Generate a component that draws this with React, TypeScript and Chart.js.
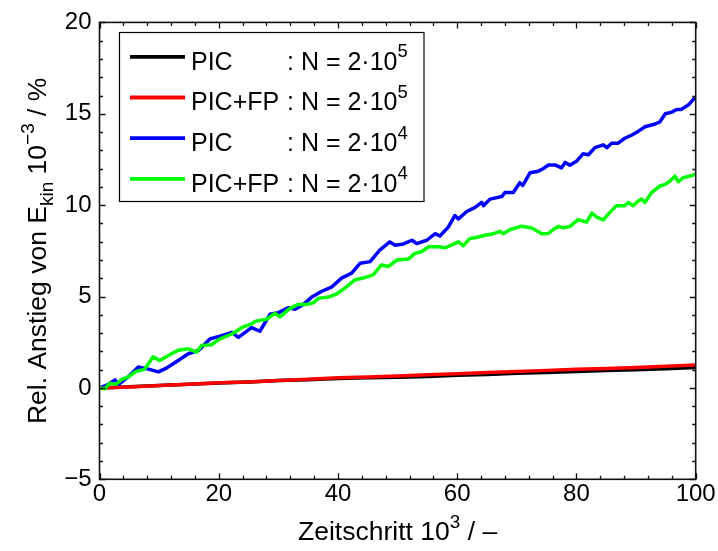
import { useEffect, useRef } from 'react';
import { Chart, registerables } from 'chart.js';

Chart.register(...registerables);

// ---- data (x in 10^3 time steps, y in 10^-3 %) ----
const lowX = [0, 5, 10, 15, 20, 25, 30, 35, 40, 45, 50, 55, 60, 65, 70, 75, 80, 85, 90, 95, 100];
const picN5 = [0, 0.07, 0.13, 0.2, 0.27, 0.33, 0.4, 0.45, 0.52, 0.55, 0.58, 0.63, 0.7, 0.73, 0.8, 0.85, 0.9, 0.95, 1.0, 1.05, 1.12];
const picFpN5 = [0, 0.05, 0.13, 0.2, 0.28, 0.33, 0.4, 0.47, 0.55, 0.6, 0.65, 0.72, 0.78, 0.84, 0.9, 0.96, 1.02, 1.06, 1.12, 1.18, 1.25];

const picN4X = [0, 1.5, 2.6, 3.2, 4.8, 6.5, 8.2, 9.9, 11.3, 13.2, 14.9, 16.6, 18.5, 20.5, 22.2, 23.3, 25.5, 26.9, 28.6, 30.0, 31.7, 32.8, 34.2, 35.6, 37.3, 38.9, 40.6, 42.3, 43.7, 45.4, 47.0, 48.7, 49.6, 51.0, 52.4, 53.2, 54.9, 56.3, 57.1, 58.5, 59.6, 60.2, 61.6, 63.0, 64.1, 64.4, 65.5, 67.5, 68.0, 69.4, 70.5, 71.0, 72.2, 73.6, 74.4, 75.3, 76.4, 77.5, 78.1, 78.9, 80.0, 81.1, 82.0, 83.1, 84.5, 85.1, 85.9, 87.0, 88.1, 89.3, 90.4, 91.5, 92.9, 94.0, 94.9, 96.0, 96.8, 97.6, 98.8, 99.9];
const picN4 = [0, 0.2, 0.44, 0.2, 0.6, 1.15, 1.03, 0.88, 1.1, 1.5, 1.87, 2.05, 2.68, 2.86, 3.04, 2.77, 3.3, 3.1, 4.03, 4.12, 4.39, 4.3, 4.57, 4.97, 5.29, 5.51, 6.01, 6.28, 6.82, 6.91, 7.54, 7.99, 7.81, 7.88, 8.08, 7.9, 8.08, 8.44, 8.31, 8.8, 9.43, 9.25, 9.65, 9.88, 10.15, 9.97, 10.33, 10.47, 10.69, 10.69, 11.23, 11.08, 11.77, 11.86, 11.99, 12.2, 12.2, 12.04, 12.34, 12.18, 12.4, 12.81, 12.76, 13.15, 13.3, 13.15, 13.39, 13.39, 13.66, 13.84, 14.05, 14.29, 14.41, 14.56, 15.0, 15.09, 15.24, 15.24, 15.49, 15.9];

const picFpN4X = [0, 0.9, 1.7, 2.8, 3.7, 4.8, 6.0, 7.6, 9.0, 10.1, 11.8, 13.2, 14.9, 16.3, 17.1, 18.8, 20.2, 22.2, 23.9, 25.5, 26.1, 28.0, 29.4, 30.3, 31.7, 33.3, 34.8, 35.9, 36.7, 38.4, 39.8, 41.2, 42.9, 44.2, 45.9, 47.3, 48.4, 49.9, 51.8, 52.9, 54.0, 55.2, 56.8, 58.0, 59.3, 60.2, 61.0, 62.1, 63.5, 64.7, 66.1, 67.2, 67.7, 68.9, 70.8, 72.5, 74.2, 75.3, 76.3, 77.0, 77.8, 78.9, 80.3, 81.7, 82.6, 83.4, 84.5, 85.9, 86.7, 88.1, 88.7, 89.5, 90.4, 90.9, 91.5, 92.6, 94.0, 94.9, 95.7, 96.5, 97.1, 97.9, 99.0, 99.9];
const picFpN4 = [0, -0.05, 0.25, 0.2, 0.45, 0.6, 0.88, 1.03, 1.7, 1.5, 1.82, 2.06, 2.14, 1.96, 2.32, 2.36, 2.68, 2.95, 3.31, 3.5, 3.64, 3.76, 4.07, 3.89, 4.3, 4.57, 4.57, 4.66, 4.9, 4.97, 5.15, 5.47, 5.92, 6.01, 6.19, 6.73, 6.64, 7.0, 7.05, 7.36, 7.45, 7.72, 7.72, 7.67, 7.85, 7.99, 7.78, 8.17, 8.26, 8.35, 8.44, 8.57, 8.44, 8.67, 8.85, 8.75, 8.44, 8.45, 8.71, 8.84, 8.76, 8.84, 9.21, 9.07, 9.56, 9.34, 9.2, 9.7, 9.97, 9.97, 10.15, 9.97, 10.24, 10.33, 10.15, 10.69, 11.05, 11.14, 11.32, 11.59, 11.28, 11.5, 11.59, 11.68];

const legendNames = ['PIC', 'PIC+FP', 'PIC', 'PIC+FP'];
const legendExps = ['5', '5', '4', '4'];
const seriesColors = ['#000000', '#ff0000', '#0000ff', '#00ff00'];

const xTickValues = [0, 20, 40, 60, 80, 100];
const yTickValues = [-5, 0, 5, 10, 15, 20];
const xMinorStep = 4;
const yMinorStep = 1;

const FONT = '"Liberation Sans", Arial, Helvetica, sans-serif';
const TITLE = 26.5;
const TITLE_SUP = 19;
const LEG = 25;

type Part = { t: string; size: number; dy: number };

function drawRich(ctx: CanvasRenderingContext2D, parts: Part[], x: number, y: number, align: 'left' | 'center') {
  let total = 0;
  const widths = parts.map((p) => {
    ctx.font = `${p.size}px ${FONT}`;
    const w = ctx.measureText(p.t).width;
    total += w;
    return w;
  });
  let cx = align === 'center' ? x - total / 2 : x;
  ctx.textAlign = 'left';
  ctx.textBaseline = 'alphabetic';
  parts.forEach((p, i) => {
    ctx.font = `${p.size}px ${FONT}`;
    ctx.fillText(p.t, cx, y + p.dy);
    cx += widths[i];
  });
}

const framePlugin = {
  id: 'matlabFrame',
  afterDatasetsDraw(chart: any) {
    const { ctx, chartArea } = chart;
    const xs = chart.scales.x;
    const ys = chart.scales.y;
    const { left, right, top, bottom } = chartArea;
    ctx.save();
    ctx.strokeStyle = '#111111';
    ctx.lineWidth = 1.3;
    // ticks
    const xMin = xTickValues[0];
    const xMax = xTickValues[xTickValues.length - 1];
    for (let v = xMin; v <= xMax + 1e-9; v += xMinorStep) {
      const major = xTickValues.some((t) => Math.abs(t - v) < 1e-9);
      const len = major ? 6 : 3.5;
      const px = Math.round(xs.getPixelForValue(v)) + 0.5;
      ctx.beginPath();
      ctx.moveTo(px, bottom);
      ctx.lineTo(px, bottom - len);
      ctx.moveTo(px, top);
      ctx.lineTo(px, top + len);
      ctx.stroke();
    }
    const yMin = yTickValues[0];
    const yMax = yTickValues[yTickValues.length - 1];
    for (let v = yMin; v <= yMax + 1e-9; v += yMinorStep) {
      const major = yTickValues.some((t) => Math.abs(t - v) < 1e-9);
      const len = major ? 6 : 3.5;
      const py = Math.round(ys.getPixelForValue(v)) + 0.5;
      ctx.beginPath();
      ctx.moveTo(left, py);
      ctx.lineTo(left + len, py);
      ctx.moveTo(right, py);
      ctx.lineTo(right - len, py);
      ctx.stroke();
    }
    // box
    ctx.lineWidth = 1.6;
    ctx.strokeRect(left, top, right - left, bottom - top);

    // axis titles
    ctx.fillStyle = '#000000';
    drawRich(
      ctx,
      [
        { t: 'Zeitschritt 10', size: TITLE, dy: 0 },
        { t: '3', size: TITLE_SUP, dy: -12 },
        { t: ' / \u2013', size: TITLE, dy: 0 },
      ],
      (left + right) / 2,
      540,
      'center'
    );
    ctx.save();
    ctx.translate(46, (top + bottom) / 2);
    ctx.rotate(-Math.PI / 2);
    drawRich(
      ctx,
      [
        { t: 'Rel. Anstieg von E', size: TITLE, dy: 0 },
        { t: 'kin', size: TITLE_SUP, dy: 6.5 },
        { t: ' 10', size: TITLE, dy: 0 },
        { t: '\u22123', size: TITLE_SUP, dy: -12 },
        { t: ' / %', size: TITLE, dy: 0 },
      ],
      0,
      0,
      'center'
    );
    ctx.restore();

    // legend
    const lx0 = 119.5;
    const ly0 = 32.5;
    const lw = 304.5;
    const lh = 169;
    ctx.fillStyle = '#ffffff';
    ctx.fillRect(lx0, ly0, lw, lh);
    ctx.lineWidth = 1.2;
    ctx.strokeStyle = '#000000';
    ctx.strokeRect(lx0, ly0, lw, lh);
    const rowGap = 40.7;
    chart.data.datasets.forEach((ds: any, i: number) => {
      const cy = 56.8 + rowGap * i;
      ctx.strokeStyle = ds.borderColor;
      ctx.lineWidth = 3.8;
      ctx.beginPath();
      ctx.moveTo(130, cy);
      ctx.lineTo(185, cy);
      ctx.stroke();
      ctx.fillStyle = '#000000';
      const base = cy + 12.8;
      drawRich(ctx, [{ t: legendNames[i], size: LEG, dy: 0 }], 191, base, 'left');
      drawRich(
        ctx,
        [
          { t: ': N = 2\u00b710', size: LEG, dy: 0 },
          { t: legendExps[i], size: 18.5, dy: -12.5 },
        ],
        287,
        base,
        'left'
      );
    });
    ctx.restore();
  },
};

export default function App() {
  const ref = useRef<HTMLCanvasElement | null>(null);
  useEffect(() => {
    if (!ref.current) return;
    const mk = (xa: number[], ya: number[]) => xa.map((x, i) => ({ x, y: ya[i] }));
    const sets = [
      mk(lowX, picN5),
      mk(lowX, picFpN5),
      mk(picN4X, picN4),
      mk(picFpN4X, picFpN4),
    ];
    const chart = new Chart(ref.current, {
      type: 'line',
      data: {
        datasets: sets.map((d, i) => ({
          label: legendNames[i] + ' : N = 2\u00b710^' + legendExps[i],
          data: d,
          borderColor: seriesColors[i],
          backgroundColor: seriesColors[i],
          borderWidth: 3.5,
          pointRadius: 0,
          tension: 0,
          fill: false,
          borderJoinStyle: 'round',
          order: 3 - i,
        })),
      },
      options: {
        animation: false,
        responsive: false,
        devicePixelRatio: 1,
        layout: { padding: { left: 0, right: 22.3, top: 16, bottom: 0 } },
        plugins: { legend: { display: false }, tooltip: { enabled: false } },
        scales: {
          x: {
            type: 'linear',
            min: 0,
            max: 100,
            grid: { display: false, drawTicks: false },
            border: { display: false },
            ticks: {
              stepSize: 20,
              padding: 1,
              color: '#000000',
              font: { family: FONT, size: 24 },
              maxRotation: 0,
            },
            afterFit: (s: any) => {
              s.height = 71.7;
            },
          },
          y: {
            type: 'linear',
            min: -5,
            max: 20,
            grid: { display: false, drawTicks: false },
            border: { display: false },
            ticks: {
              stepSize: 5,
              padding: 8,
              color: '#000000',
              font: { family: FONT, size: 24 },
              callback: (v: any) => (v < 0 ? '\u2212' + Math.abs(v) : String(v)),
            },
            afterFit: (s: any) => {
              s.width = 99.5;
            },
          },
        },
      },
      plugins: [framePlugin],
    } as any);
    return () => chart.destroy();
  }, []);
  return (
    <div style={{ position: 'fixed', left: 0, top: 0, width: 718, height: 551, background: '#ffffff' }}>
      <canvas ref={ref} width={718} height={551} style={{ display: 'block', width: 718, height: 551 }} />
    </div>
  );
}
